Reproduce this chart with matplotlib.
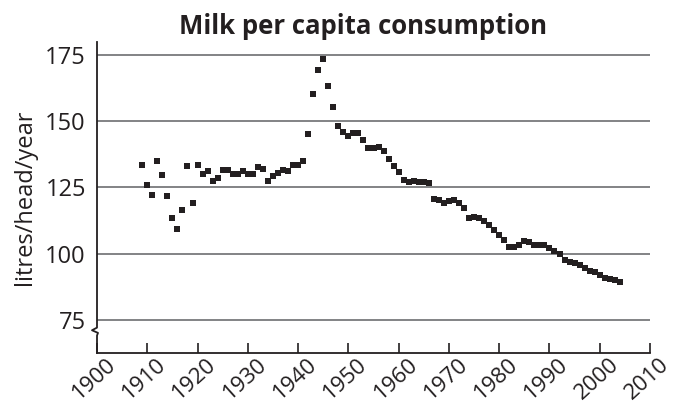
import matplotlib
matplotlib.use("Agg")
import matplotlib.pyplot as plt
import matplotlib.transforms as mtransforms

plt.rcParams['font.family'] = ['Open Sans', 'DejaVu Sans']

years = list(range(1909, 2005))
consumption = [
    133.5, 126.0, 122.3, 134.9, 129.6, 121.9, 113.6, 109.4, 116.5, 133.3,
    119.1, 133.4, 130.1, 131.1, 127.4, 128.4, 131.7, 131.6, 130.0, 130.1,
    131.1, 130.1, 130.1, 132.6, 131.9, 127.5, 129.2, 130.5, 131.5, 131.4,
    133.5, 133.6, 135.0, 145.1, 160.3, 169.3, 173.5, 163.5, 155.3, 148.1,
    146.0, 144.6, 145.6, 145.6, 143.1, 140.0, 140.0, 140.4, 138.8, 135.9,
    133.0, 131.0, 127.9, 126.9, 127.4, 127.2, 126.9, 126.8, 120.8, 120.2,
    119.0, 119.8, 120.1, 119.1, 117.2, 113.5, 113.9, 113.3, 112.3, 110.8,
    108.9, 107.0, 105.0, 102.5, 102.5, 103.3, 104.8, 104.5, 103.3, 103.3,
    103.1, 102.0, 101.0, 99.8, 97.5, 96.8, 96.3, 95.5, 94.5, 93.5,
    92.9, 92.0, 90.8, 90.4, 90.0, 89.1,
]
y_ticks = [75, 100, 125, 150, 175]
x_ticks = list(range(1900, 2011, 10))
title = "Milk per capita consumption"
y_label = "litres/head/year"

ink = "#231f20"

fig = plt.figure(figsize=(6.76, 4.07), dpi=100)
ax = fig.add_axes([97/676, 1 - 353/407, (650-97)/676, (353-42)/407])

ax.set_xlim(1900, 2010)
ax.set_ylim(62.4, 180)

for yv in y_ticks:
    ax.axhline(yv, color="#6d6e71", lw=1.2, zorder=1)

ax.plot(years, consumption, linestyle="none", marker="s", markersize=4.2,
        color=ink, markeredgewidth=0, zorder=3)

for s in ["top", "right"]:
    ax.spines[s].set_visible(False)
ax.spines["left"].set_visible(False)
ax.spines["bottom"].set_color(ink)
ax.spines["bottom"].set_linewidth(1.3)

# left axis line with break zigzag
trans = mtransforms.blended_transform_factory(ax.transAxes, ax.transData)
dx = 1.0 / 553.0
ax.plot([0, 0, -5*dx, 1*dx, 0, 0],
        [180, 72.0, 71.0, 70.0, 69.0, 62.4],
        transform=trans, color=ink, lw=1.3, clip_on=False, zorder=4)

ax.set_yticks(y_ticks)
ax.set_yticklabels([str(v) for v in y_ticks], fontsize=17, color=ink)
ax.tick_params(axis="y", length=0, pad=8)

ax.set_xticks(x_ticks)
ax.set_xticklabels([str(v) for v in x_ticks], fontsize=16, color=ink,
                   rotation=42, ha="right", va="top", rotation_mode="anchor")
ax.tick_params(axis="x", direction="in", length=7, width=1.2, color=ink, pad=1)
offset = mtransforms.ScaledTranslation(9/100, 0, fig.dpi_scale_trans)
for lbl in ax.get_xticklabels():
    lbl.set_transform(lbl.get_transform() + offset)

ax.set_ylabel(y_label, fontsize=17, color=ink, labelpad=6)

fig.text(363/676, 1 - 26/407, title, ha="center", va="center",
         fontsize=18.5, fontweight="bold", color=ink)

fig.savefig("out.png", dpi=100)
